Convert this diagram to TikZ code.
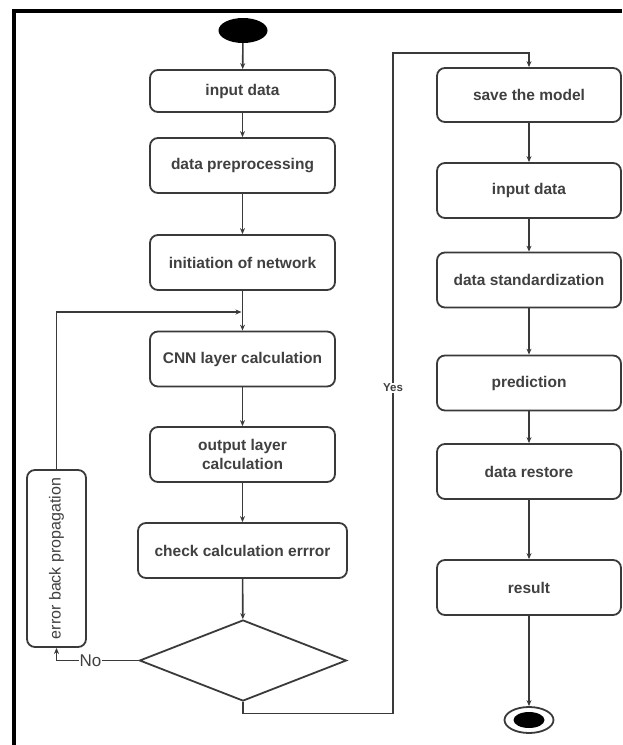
\documentclass[tikz,border=0pt]{standalone}
\usepackage{fontspec}
\setmainfont{Liberation Sans}
\usetikzlibrary{shapes.geometric,arrows.meta}
\definecolor{ln}{HTML}{3A3A3A}
\definecolor{tx}{HTML}{404040}
\begin{document}
\begin{tikzpicture}[x=1pt,y=-1pt,
  box/.style={draw=ln, line width=1.8pt, rounded corners=8pt, fill=white, inner sep=0pt,
    minimum height=55pt, text=tx, font=\bfseries\fontsize{15.5}{19}\selectfont, align=center},
  lbox/.style={box, minimum width=185pt},
  rbox/.style={box, minimum width=184pt},
  arr/.style={draw=ln, line width=1.6pt, -{Stealth[length=6pt,width=5pt]}},
  ln/.style={draw=ln, line width=1.6pt},
  lbl/.style={fill=white, inner sep=1pt, text=tx}
]
\useasboundingbox (0,0) rectangle (622,745);
\draw[line width=4pt] (13.5,745) -- (13.5,11) -- (622,11);

% left column
\node[ellipse, fill=black, minimum width=49pt, minimum height=25pt, inner sep=0pt] (start) at (243,30.5) {};
\node[lbox, minimum height=42pt] (in1) at (242.5,91) {input data};
\node[lbox] (pre) at (242.5,165.5) {data preprocessing};
\node[lbox] (init) at (242.5,262.5) {initiation of network};
\node[lbox] (cnn) at (242.5,359) {CNN layer calculation};
\node[lbox] (out) at (242.5,454.5) {output layer\\calculation};
\node[box, minimum width=209pt] (chk) at (242.5,550.5) {check calculation errror};
\node[diamond, draw=ln, line width=1.8pt, minimum width=207pt, minimum height=81pt, aspect=2.56, inner sep=0pt] (dia) at (243,660.5) {};
\node[box, minimum width=59pt, minimum height=177pt] (ebp) at (56.5,558.5) {};
\node[rotate=90, text=tx, font=\fontsize{16}{19}\selectfont] (ebpt) at (ebp.center) {error back propagation};

% right column
\node[rbox, minimum height=54pt] (save) at (529,95) {save the model};
\node[rbox] (in2) at (529,190.5) {input data};
\node[rbox] (std) at (529,280) {data standardization};
\node[rbox] (pred) at (529,383) {prediction};
\node[rbox] (rest) at (529,471.5) {data restore};
\node[rbox] (res) at (529,587.5) {result};
\node[ellipse, draw=ln, line width=1.8pt, minimum width=49pt, minimum height=26pt, inner sep=0pt] (end) at (529,720) {};
\node[ellipse, fill=black, minimum width=31pt, minimum height=16pt, inner sep=0pt] (endin) at (end.center) {};

% connectors left
\draw[arr] (start) -- (in1);
\draw[arr] (in1) -- (pre);
\draw[arr] (pre) -- (init);
\draw[arr] (init) -- (cnn);
\draw[arr] (cnn) -- (out);
\draw[arr] (out) -- (chk);
\draw[arr] (chk) -- (dia);
\coordinate (loopend) at (241.5,312);
\draw[arr] (ebp.north) |- (loopend);
\draw[arr] (dia.west) -| (ebp.south);
\node[lbl, font=\fontsize{17}{19}\selectfont] (no) at (90.5,661) {No};

% yes path
\coordinate (yb) at (393,713.5);
\coordinate (yt) at (393,53);
\draw[arr] (dia.south) |- (yb) -- (yt) -| (save.north);
\node[lbl, font=\bfseries\fontsize{11.5}{13}\selectfont] (yes) at (393,388) {Yes};

% connectors right
\draw[arr] (save) -- (in2);
\draw[arr] (in2) -- (std);
\draw[arr] (std) -- (pred);
\draw[arr] (pred) -- (rest);
\draw[arr] (rest) -- (res);
\draw[arr] (res) -- (end);
\end{tikzpicture}
\end{document}
